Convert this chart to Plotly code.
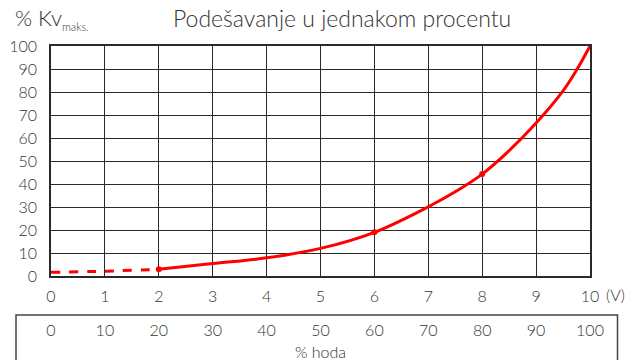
import plotly.graph_objects as go

# Control signal (V) and relative flow coefficient (% Kv max)
signal_dashed = [0, 1, 2]
kv_dashed = [1.6, 2.1, 2.9]
signal_curve = [2, 3, 4, 5, 6, 7, 7.5, 8, 8.5, 9, 9.5, 9.75, 10]
kv_curve = [2.9, 5.4, 7.9, 12.0, 19.0, 30.1, 36.6, 44.3, 54.5, 66.5, 80.5, 89.5, 100]
signal_marked = [2, 6, 8]
kv_marked = [2.9, 19.0, 44.3]

volt_ticks = list(range(0, 11))
kv_ticks = list(range(0, 101, 10))
stroke_ticks = list(range(0, 101, 10))

FONT = "Lato"
TXT = "#333333"
RED = "#ff0000"
GRID = "#2a2a2a"

# paper coordinates span the area inside the margins: x 51..590 px, y 46..360 px
W_IN, H_IN, TOP, LEFT = 539, 314, 46, 51


def px_x(p):
    return (p - LEFT) / W_IN


def px_y(p):
    return (360 - p) / H_IN


fig = go.Figure()
fig.add_trace(go.Scatter(x=signal_dashed, y=kv_dashed, mode="lines",
                         line=dict(color=RED, width=3, dash="dash", shape="spline"),
                         hoverinfo="skip"))
fig.add_trace(go.Scatter(x=signal_curve, y=kv_curve, mode="lines",
                         line=dict(color=RED, width=3, shape="spline", smoothing=1.0),
                         hoverinfo="skip"))
fig.add_trace(go.Scatter(x=signal_marked, y=kv_marked, mode="markers",
                         marker=dict(color=RED, size=6), hoverinfo="skip"))
# invisible trace carrying the stroke (% hoda) axis
fig.add_trace(go.Scatter(x=[stroke_ticks[0], stroke_ticks[-1]], y=[None, None],
                         xaxis="x2", mode="lines", showlegend=False, hoverinfo="skip"))

fig.update_layout(
    width=634, height=360,
    margin=dict(l=LEFT, r=44, t=TOP, b=0, pad=0, autoexpand=False),
    paper_bgcolor="white", plot_bgcolor="white",
    showlegend=False,
    font=dict(family=FONT, color=TXT, size=15, weight=300),
    xaxis=dict(range=[0, 10], tickvals=volt_ticks, ticktext=[str(v) for v in volt_ticks],
               showgrid=True, gridcolor=GRID, gridwidth=1.3, automargin=False,
               showline=True, linecolor=GRID, linewidth=1.5, mirror=True,
               ticks="", ticklabelstandoff=5, zeroline=False,
               tickfont=dict(family=FONT, size=16, color=TXT, weight=300)),
    yaxis=dict(range=[0, 100], domain=[px_y(276), 1], tickvals=kv_ticks,
               showgrid=True, gridcolor=GRID, gridwidth=1.3, automargin=False,
               showline=True, linecolor=GRID, linewidth=1.5, mirror=True,
               ticks="", ticklabelstandoff=9, zeroline=False,
               tickfont=dict(family=FONT, size=16, color=TXT, weight=300)),
    xaxis2=dict(range=[0, 100], overlaying="x", anchor="free", position=px_y(319),
                side="bottom", tickvals=stroke_ticks, showgrid=False, showline=False,
                zeroline=False, ticks="", ticklabelstandoff=0, automargin=False,
                tickfont=dict(family=FONT, size=16, color=TXT, weight=300)),
    shapes=[dict(type="rect", xref="paper", yref="paper",
                 x0=px_x(16), x1=px_x(617.5), y0=px_y(372), y1=px_y(315),
                 line=dict(color="#444444", width=1.5), fillcolor="rgba(0,0,0,0)")],
    annotations=[
        dict(text="Podešavanje u jednakom procentu", xref="paper", yref="paper",
             x=px_x(342), y=px_y(18), xanchor="center", yanchor="middle",
             showarrow=False, font=dict(family=FONT, size=23, color=TXT, weight=300)),
        dict(text="% Kv<sub><span style='font-size:11px'>maks.</span></sub>",
             xref="paper", yref="paper",
             x=px_x(13), y=px_y(19), xanchor="left", yanchor="middle",
             showarrow=False, font=dict(family=FONT, size=22, color=TXT, weight=300)),
        dict(text="(V)", xref="paper", yref="paper",
             x=px_x(604), y=px_y(294), xanchor="left", yanchor="middle",
             showarrow=False, font=dict(family=FONT, size=16, color=TXT, weight=300)),
        dict(text="% hoda", xref="paper", yref="paper",
             x=px_x(320), y=px_y(351), xanchor="center", yanchor="middle",
             showarrow=False, font=dict(family=FONT, size=16, color=TXT, weight=300)),
    ],
)

fig.write_html("out.html")
